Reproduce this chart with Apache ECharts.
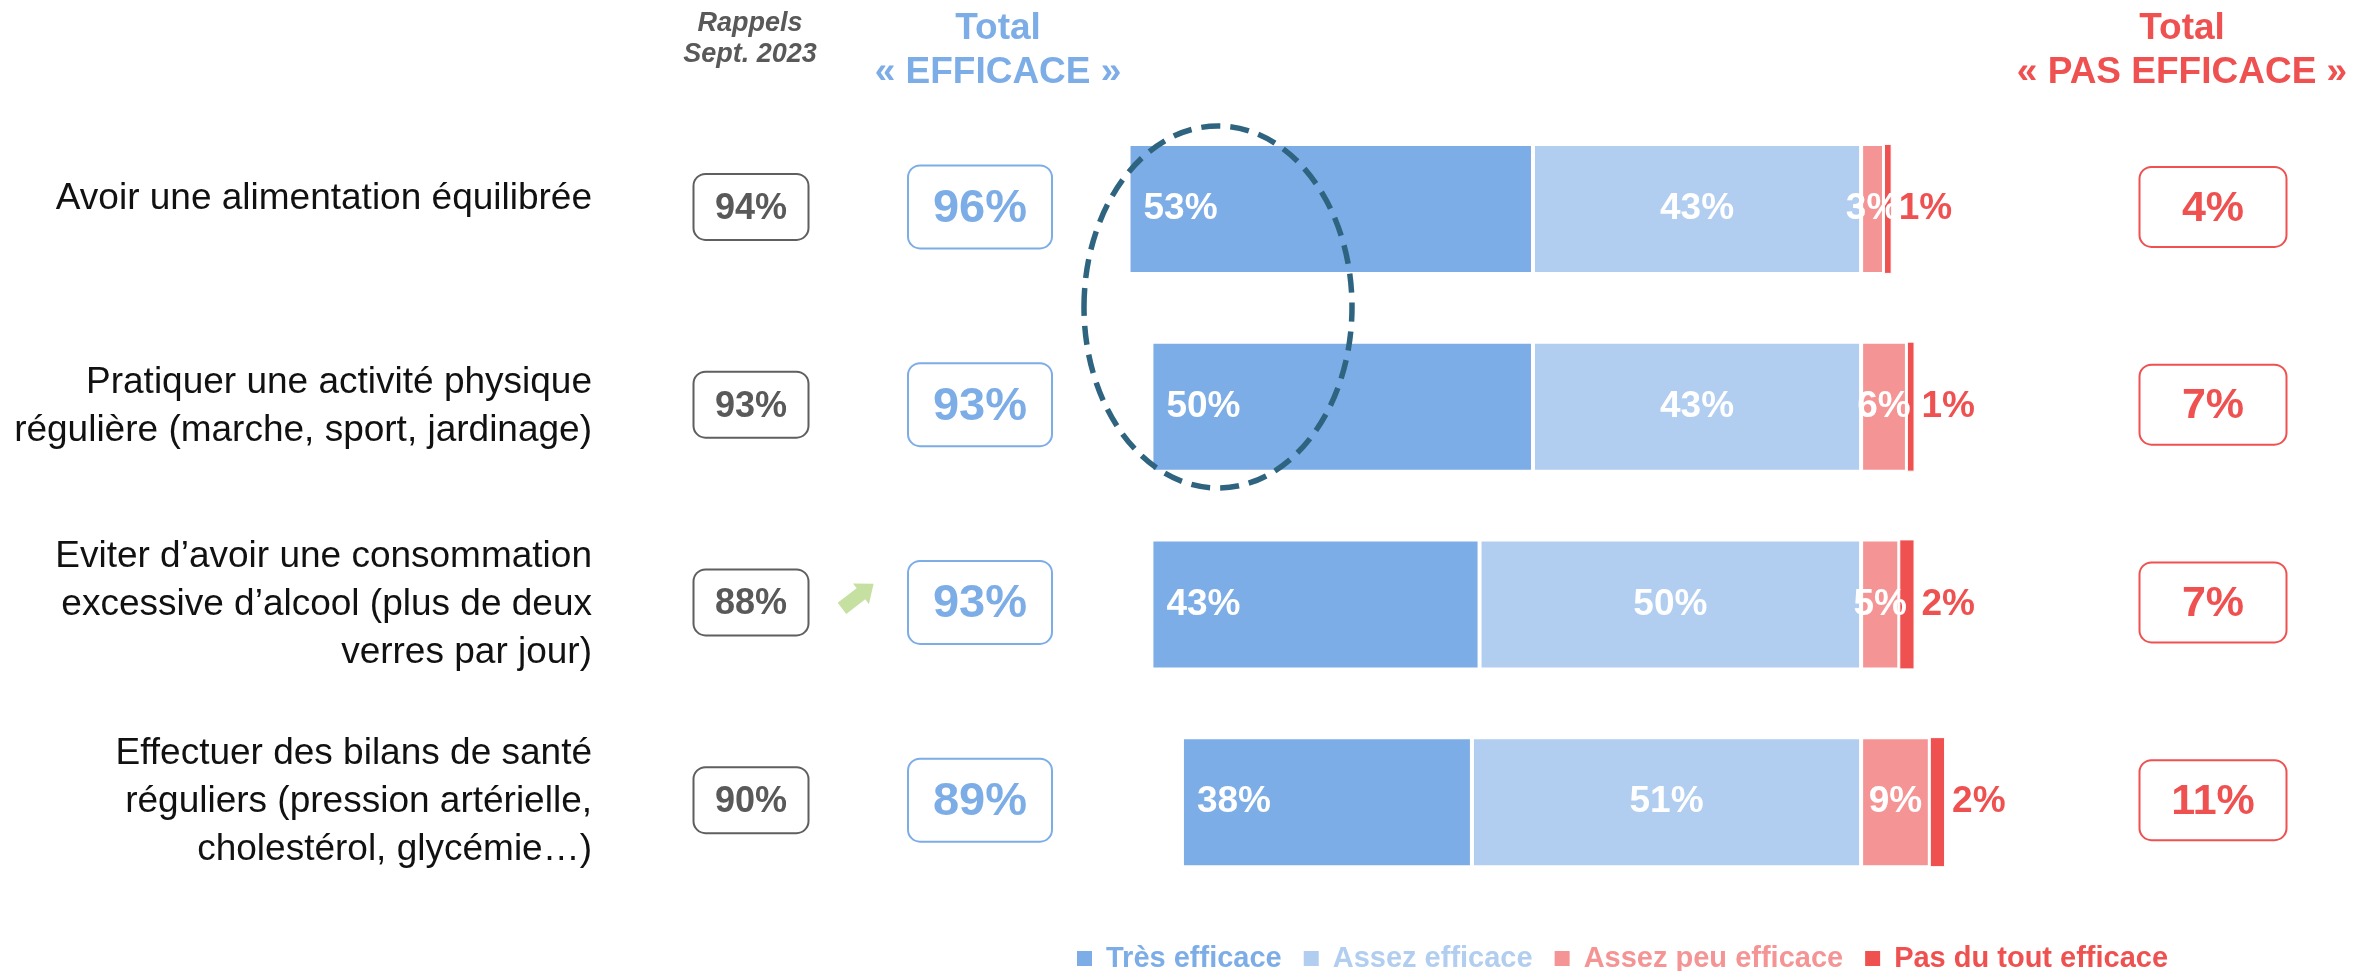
<!DOCTYPE html>
<html>
<head>
<meta charset="utf-8">
<title>Efficacité perçue</title>
<script src="https://cdn.jsdelivr.net/npm/echarts@6/dist/echarts.min.js"></script>
<style>
  html, body { margin: 0; padding: 0; background: #fff; }
  #main { width: 2369px; height: 971px; }
</style>
</head>
<body>
<div id="main"></div>
<script>
// données
var categories = [
  'Avoir une alimentation équilibrée',
  'Pratiquer une activité physique\nrégulière (marche, sport, jardinage)',
  'Eviter d’avoir une consommation\nexcessive d’alcool (plus de deux\nverres par jour)',
  'Effectuer des bilans de santé\nréguliers (pression artérielle,\ncholestérol, glycémie…)'
];
var tresEfficace = [53, 50, 43, 38];
var assezEfficace = [43, 43, 50, 51];
var assezPeuEfficace = [3, 6, 5, 9];
var pasDuToutEfficace = [1, 1, 2, 2];
var rappelsSept2023 = [94, 93, 88, 90];
var totalEfficace = [96, 93, 93, 89];
var totalPasEfficace = [4, 7, 7, 11];
var evolution = [null, null, 'up', null];

var FONT = '"Liberation Sans", Arial, sans-serif';
var C_TRES = '#7DADE6', C_ASSEZ = '#B1CDF0', C_PEU = '#F59494', C_PAS = '#EF5050';
var C_GRIS = '#595959';

var myChart = echarts.init(document.getElementById('main'));

function neg(arr) { return arr.map(function (v) { return -v; }); }
function pct(p) { return Math.abs(p.value) + '%'; }

// la premiere ligne (une seule ligne de texte) est un peu remontee
var catData = categories.map(function (c, i) {
  return i == 0 ? { value: c, textStyle: { verticalAlign: 'bottom', lineHeight: 20 } } : c;
});

// efficace a gauche du zero, pas efficace a droite
option = {
  animation: false,
  grid: { left: 1098, right: 50, top: 110, bottom: 70 },
  xAxis: { type: 'value', min: -100, max: 60, show: false },
  yAxis: {
    type: 'category',
    inverse: true,
    data: catData,
    axisLine: { show: false },
    axisTick: { show: false },
    axisLabel: {
      margin: 506,
      fontFamily: FONT,
      fontSize: 37,
      lineHeight: 48,
      color: '#111',
      align: 'right'
    }
  },
  legend: {
    left: 1070,
    top: 939,
    icon: 'rect',
    itemWidth: 17,
    itemHeight: 17,
    itemGap: 20,
    textStyle: { fontFamily: FONT, fontSize: 29, fontWeight: 'bold', padding: [0, 0, 0, 8] },
    data: [
      { name: 'Très efficace', textStyle: { color: C_TRES } },
      { name: 'Assez efficace', textStyle: { color: C_ASSEZ } },
      { name: 'Assez peu efficace', textStyle: { color: C_PEU } },
      { name: 'Pas du tout efficace', textStyle: { color: C_PAS } }
    ]
  },
  series: [
    {
      name: 'Assez efficace', type: 'bar', stack: 'total', barWidth: 130,
      data: neg(assezEfficace),
      itemStyle: { color: C_ASSEZ, borderColor: '#fff', borderWidth: 2 },
      label: { show: true, position: 'inside', formatter: pct, color: '#fff', fontFamily: FONT, fontSize: 37, fontWeight: 'bold' }
    },
    {
      name: 'Très efficace', type: 'bar', stack: 'total', barWidth: 130,
      data: neg(tresEfficace),
      itemStyle: { color: C_TRES, borderColor: '#fff', borderWidth: 2 },
      label: { show: true, position: 'insideLeft', distance: 15, formatter: pct, color: '#fff', fontFamily: FONT, fontSize: 37, fontWeight: 'bold' }
    },
    {
      name: 'Assez peu efficace', type: 'bar', stack: 'total', barWidth: 130,
      data: assezPeuEfficace,
      itemStyle: { color: C_PEU, borderColor: '#fff', borderWidth: 2 },
      label: { show: true, position: 'inside', formatter: pct, color: '#fff', fontFamily: FONT, fontSize: 37, fontWeight: 'bold' }
    },
    {
      name: 'Pas du tout efficace', type: 'bar', stack: 'total', barWidth: 130,
      data: pasDuToutEfficace,
      itemStyle: { color: C_PAS, borderColor: '#fff', borderWidth: 1 },
      label: { show: true, position: 'right', distance: 7, formatter: pct, color: C_PAS, fontFamily: FONT, fontSize: 37, fontWeight: 'bold' }
    }
  ]
};
myChart.setOption(option);

// encadres, titres de colonnes, ellipse, fleche
function box(cx, cy, w, h, stroke, text, color, size) {
  return {
    type: 'group', x: cx, y: cy, z: 50,
    children: [
      { type: 'rect', shape: { x: -w / 2, y: -h / 2, width: w, height: h, r: 12 },
        style: { fill: '#fff', stroke: stroke, lineWidth: 2 } },
      { type: 'text', x: 0, y: 2,
        style: { text: text, fill: color, font: 'bold ' + size + 'px ' + FONT, align: 'center', verticalAlign: 'middle' } }
    ]
  };
}
function header(cx, y0, lines, color, size, style, gap) {
  return lines.map(function (t, i) {
    return { type: 'text', x: cx, y: y0 + i * gap, z: 50,
      style: { text: t, fill: color, font: style + ' ' + size + 'px ' + FONT, align: 'center', verticalAlign: 'middle' } };
  });
}

var graphic = [];
graphic = graphic.concat(header(750, 24, ['Rappels', 'Sept. 2023'], C_GRIS, 27, 'italic bold', 31));
graphic = graphic.concat(header(998, 29, ['Total', '« EFFICACE »'], C_TRES, 37, 'bold', 44));
graphic = graphic.concat(header(2182, 29, ['Total', '« PAS EFFICACE »'], C_PAS, 37, 'bold', 44));

for (var i = 0; i < categories.length; i++) {
  var y = myChart.convertToPixel({ yAxisIndex: 0 }, i) - 2;
  graphic.push(box(751, y, 115, 66, '#5f5f5f', rappelsSept2023[i] + '%', C_GRIS, 36));
  graphic.push(box(980, y, 144, 83, C_TRES, totalEfficace[i] + '%', C_TRES, 47));
  graphic.push(box(2213, y, 147, 80, C_PAS, totalPasEfficace[i] + '%', C_PAS, 43));
  if (evolution[i] == 'up') {
    graphic.push({
      type: 'polygon', x: 842, y: y + 6, rotation: 0.66, z: 50,
      shape: { points: [[0, -7], [24, -7], [24, -13], [40, 0], [24, 13], [24, 7], [0, 7]] },
      style: { fill: '#C5E0A0' }
    });
  }
}

// ellipse pointillee autour des "Très efficace" des deux premieres lignes
graphic.push({
  type: 'ellipse', z: 100,
  shape: { cx: 1218, cy: 307, rx: 134, ry: 181 },
  style: { fill: 'none', stroke: '#2E6480', lineWidth: 5.5, lineDash: [19, 10] }
});

myChart.setOption({ graphic: graphic });
</script>
</body>
</html>
